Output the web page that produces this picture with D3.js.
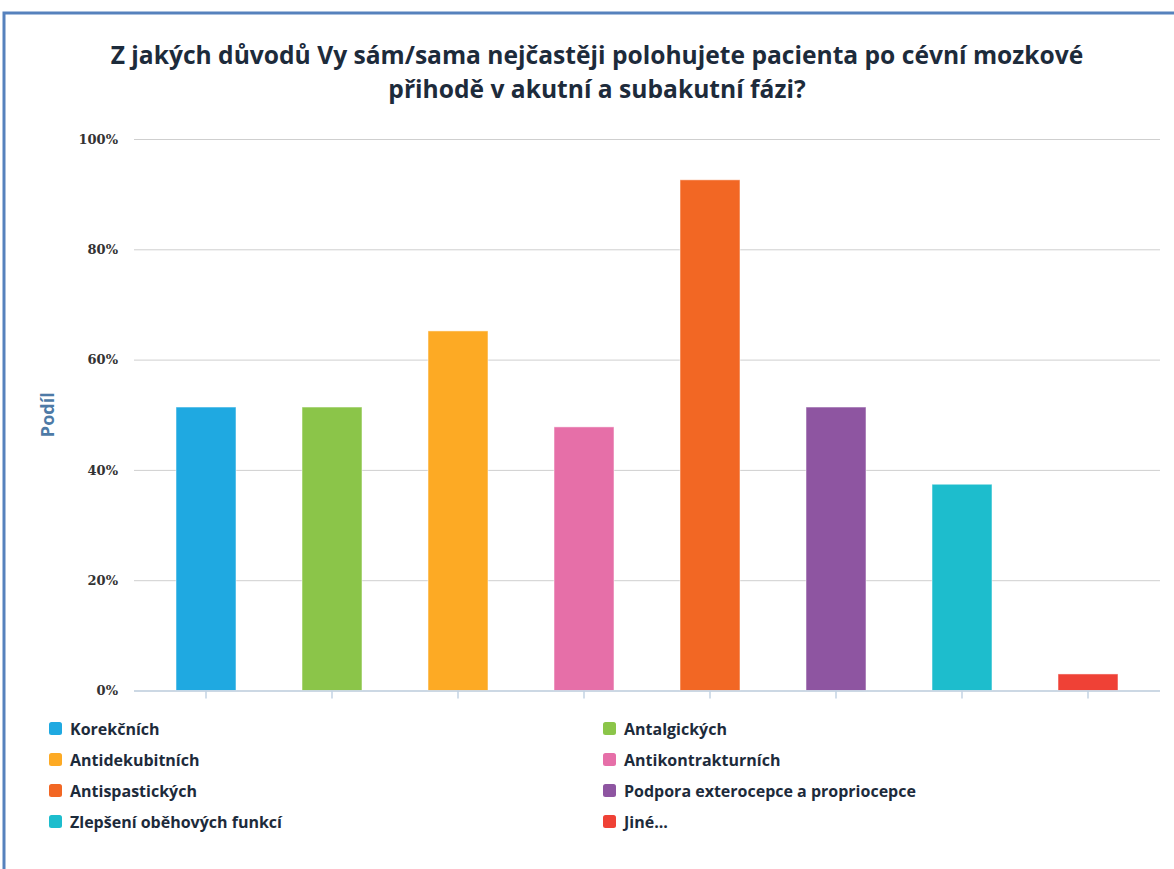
<!DOCTYPE html>
<html>
<head>
<meta charset="utf-8">
<script src="https://cdn.jsdelivr.net/npm/d3@7"></script>
<style>
  html, body { margin: 0; padding: 0; background: #fff; }
  svg { display: block; }
</style>
</head>
<body>
<svg id="chart" width="1174" height="869"></svg>
<script>
// Survey answers: share of respondents choosing each reason
const categories = [
  "Korekčních",
  "Antalgických",
  "Antidekubitních",
  "Antikontrakturních",
  "Antispastických",
  "Podpora exterocepce a propriocepce",
  "Zlepšení oběhových funkcí",
  "Jiné..."
];
const shares = [51.4, 51.4, 65.2, 47.8, 92.6, 51.4, 37.4, 3.0];
const colors = ["#1fa9e1", "#8bc549", "#fdaa24", "#e66fa8", "#f26724", "#8e55a1", "#1dbdcd", "#ef4136"];
const yTicks = [0, 20, 40, 60, 80, 100];
const titleLines = [
  "Z jakých důvodů Vy sám/sama nejčastěji polohujete pacienta po cévní mozkové",
  "přihodě v akutní a subakutní fázi?"
];
const yTitle = "Podíl";

const svg = d3.select("#chart");

// Outer frame
svg.append("rect")
  .attr("x", 4).attr("y", 13)
  .attr("width", 1300).attr("height", 1000)
  .attr("fill", "none")
  .attr("stroke", "#5682bd")
  .attr("stroke-width", 3);

// Title
svg.append("g")
  .selectAll("text")
  .data(titleLines)
  .join("text")
  .attr("x", 597)
  .attr("y", (d, i) => 64 + i * 34)
  .attr("text-anchor", "middle")
  .attr("font-family", "'Open Sans', sans-serif")
  .attr("font-weight", 700)
  .attr("font-size", 24.6)
  .attr("fill", "#1d2b3b")
  .text(d => d);

const plot = { left: 134, right: 1160, top: 139, bottom: 690.5 };

const x = d3.scaleBand()
  .domain(categories)
  .range([143, 1151])
  .paddingInner(0.524)
  .paddingOuter(0.262);

const y = d3.scaleLinear()
  .domain([0, 100])
  .range([plot.bottom, plot.top]);

// Gridlines and y labels
const yAxis = d3.axisLeft(y)
  .tickValues(yTicks)
  .tickSize(-(plot.right - plot.left))
  .tickPadding(16)
  .tickFormat(d => d + "%");

const yg = svg.append("g")
  .attr("transform", `translate(${plot.left},0)`)
  .call(yAxis);
yg.select(".domain").remove();
yg.selectAll(".tick line").attr("stroke", "#cfcfcf").attr("stroke-width", 1);
yg.selectAll(".tick text")
  .attr("font-family", "'DejaVu Serif', serif")
  .attr("font-weight", 700)
  .attr("font-size", 13)
  .attr("fill", "#333");

// Y axis title
svg.append("text")
  .attr("transform", `translate(54,${(plot.top + plot.bottom) / 2}) rotate(-90)`)
  .attr("text-anchor", "middle")
  .attr("font-family", "'Open Sans', sans-serif")
  .attr("font-weight", 700)
  .attr("font-size", 18)
  .attr("fill", "#4d7aa6")
  .text(yTitle);

// Bars
svg.append("g")
  .selectAll("rect")
  .data(categories)
  .join("rect")
  .attr("x", d => x(d))
  .attr("y", (d, i) => y(shares[i]))
  .attr("width", x.bandwidth())
  .attr("height", (d, i) => y(0) - y(shares[i]))
  .attr("fill", (d, i) => colors[i])
  .attr("stroke", "#ffffff")
  .attr("stroke-opacity", 0.5)
  .attr("stroke-width", 1);

// X axis baseline with ticks under each bar
const xAxis = d3.axisBottom(x).tickSize(8).tickFormat("");
const xg = svg.append("g")
  .attr("transform", `translate(0,${plot.bottom})`)
  .call(xAxis);
xg.select(".domain")
  .attr("d", `M${plot.left},0.5H${plot.right}`)
  .attr("stroke", "#c3d3e3")
  .attr("stroke-width", 1.5);
xg.selectAll(".tick line").attr("stroke", "#c3d3e3").attr("stroke-width", 1.5);

// Legend: two columns
const legend = svg.append("g")
  .selectAll("g")
  .data(categories)
  .join("g")
  .attr("transform", (d, i) => {
    const col = i % 2, row = Math.floor(i / 2);
    return `translate(${col === 0 ? 49 : 603},${729 + row * 31})`;
  });
legend.append("rect")
  .attr("x", 0).attr("y", -7)
  .attr("width", 13).attr("height", 13)
  .attr("rx", 2.5)
  .attr("fill", (d, i) => colors[i]);
legend.append("text")
  .attr("x", 21).attr("y", 0)
  .attr("dy", "0.35em")
  .attr("font-family", "'Open Sans', sans-serif")
  .attr("font-weight", 700)
  .attr("font-size", 16)
  .attr("fill", "#1d2b3b")
  .text(d => d);
</script>
</body>
</html>
